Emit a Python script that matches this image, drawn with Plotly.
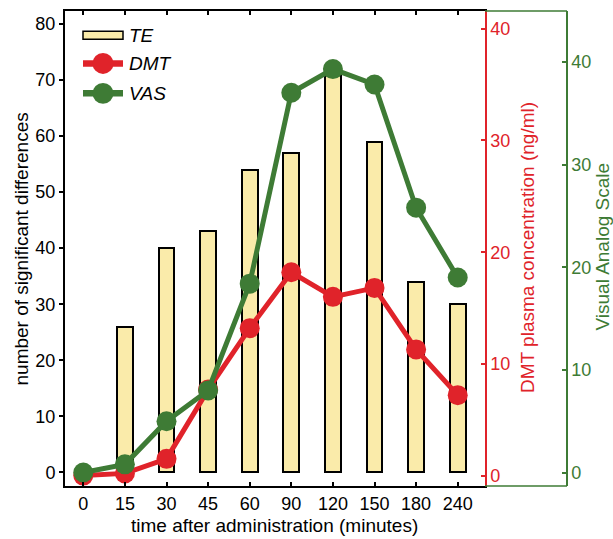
import plotly.graph_objects as go

# ---- data ----
times = ["0", "15", "30", "45", "60", "90", "120", "150", "180", "240"]
te_counts = [0, 26, 40, 43, 54, 57, 72, 59, 34, 30]
dmt_conc = [0, 0.2, 1.5, 7.7, 13.2, 18.2, 16.0, 16.8, 11.3, 7.2]
vas_score = [0, 0.8, 5.0, 8.0, 18.4, 37.0, 39.3, 37.8, 25.8, 19.0]
left_ticks = [0, 10, 20, 30, 40, 50, 60, 70, 80]
right_ticks = [0, 10, 20, 30, 40]

# ---- styles ----
FONT = "Liberation Sans, Arial, sans-serif"
YEL = "#FAEBAA"
RED = "#E0232A"
GREEN = "#3E7B35"

W, H = 613, 539
ML, MR, MT, MB = 65, 46, 9, 53
PW = W - ML - MR
PH = H - MT - MB
XR = 485  # right edge of main plot (px)


def px(x):
    return (x - ML) / PW


def py(y):
    return (H - MB - y) / PH


fig = go.Figure()
fig.add_trace(go.Bar(
    x=times, y=te_counts, width=0.38, yaxis="y",
    marker=dict(color=YEL, line=dict(color="black", width=2)),
    showlegend=False, name="TE"))
fig.add_trace(go.Scatter(
    x=times, y=dmt_conc, yaxis="y2", mode="lines+markers",
    line=dict(color=RED, width=5), marker=dict(color=RED, size=20),
    showlegend=False, name="DMT"))
fig.add_trace(go.Scatter(
    x=times, y=vas_score, yaxis="y3", mode="lines+markers",
    line=dict(color=GREEN, width=5), marker=dict(color=GREEN, size=20),
    showlegend=False, name="VAS"))

xdom_end = (XR - ML) / PW

shapes = []
annotations = []

# green frame top/bottom
for yy in (0, 1):
    shapes.append(dict(type="line", xref="paper", yref="paper",
                       x0=xdom_end, x1=1, y0=yy, y1=yy,
                       line=dict(color=GREEN, width=1.5)))

# custom legend
shapes.append(dict(type="rect", xref="paper", yref="paper",
                   x0=px(83), x1=px(123), y0=py(37.3), y1=py(29.3),
                   fillcolor=YEL, line=dict(color="black", width=1.5)))
for yc, col in ((61.7, RED), (91.7, GREEN)):
    shapes.append(dict(type="line", xref="paper", yref="paper",
                       x0=px(83), x1=px(123), y0=py(yc), y1=py(yc),
                       line=dict(color=col, width=6.5)))
    shapes.append(dict(type="circle", xref="paper", yref="paper",
                       x0=px(103 - 10.5), x1=px(103 + 10.5),
                       y0=py(yc + 10.5), y1=py(yc - 10.5),
                       fillcolor=col, line=dict(color=col, width=0)))
for yc, txt in ((33.3, "TE"), (61.7, "DMT"), (91.7, "VAS")):
    annotations.append(dict(xref="paper", yref="paper", x=px(127), y=py(yc),
                            xanchor="left", yanchor="middle", showarrow=False,
                            text="<i>%s</i>" % txt,
                            font=dict(family=FONT, size=19, color="black")))

# axis titles
annotations.append(dict(xref="paper", yref="paper", x=px(21.5), y=py(248),
                        xanchor="center", yanchor="middle", showarrow=False,
                        textangle=-90, text="number of significant differences",
                        font=dict(family=FONT, size=19, color="black")))
annotations.append(dict(xref="paper", yref="paper", x=px(527), y=py(247),
                        xanchor="center", yanchor="middle", showarrow=False,
                        textangle=-90, text="DMT plasma concentration (ng/ml)",
                        font=dict(family=FONT, size=19, color=RED)))
annotations.append(dict(xref="paper", yref="paper", x=px(602.5), y=py(246),
                        xanchor="center", yanchor="middle", showarrow=False,
                        textangle=-90, text="Visual Analog Scale",
                        font=dict(family=FONT, size=19, color=GREEN)))
annotations.append(dict(xref="paper", yref="paper", x=px(274), y=py(526),
                        xanchor="center", yanchor="middle", showarrow=False,
                        text="time after administration (minutes)",
                        font=dict(family=FONT, size=19, color="black")))

fig.update_layout(
    width=W, height=H,
    margin=dict(l=ML, r=MR, t=MT, b=MB, pad=0),
    paper_bgcolor="white", plot_bgcolor="white",
    font=dict(family=FONT, size=18, color="black"),
    showlegend=False,
    bargap=0,
    xaxis=dict(type="category", domain=[0, xdom_end], range=[-0.44, 9.656],
               showline=True, linecolor="black", linewidth=2, mirror="ticks",
               ticks="inside", ticklen=4, tickwidth=1.5, tickcolor="black",
               showgrid=False, zeroline=False,
               tickfont=dict(family=FONT, size=18, color="black")),
    yaxis=dict(range=[-2.42, 82.3], tickvals=left_ticks,
               showline=True, linecolor="black", linewidth=2,
               ticks="outside", ticklen=4, tickwidth=1.5, tickcolor="black",
               showgrid=False, zeroline=False,
               tickfont=dict(family=FONT, size=18, color="black")),
    yaxis2=dict(overlaying="y", side="right", anchor="x",
                range=[-0.93, 41.59], tickvals=right_ticks,
                showline=True, linecolor=RED, linewidth=1.5,
                ticks="inside", ticklen=4, tickwidth=1.5, tickcolor=RED,
                showgrid=False, zeroline=False,
                tickfont=dict(family=FONT, size=18, color=RED)),
    yaxis3=dict(overlaying="y", side="right", anchor="free", position=1,
                range=[-1.31, 44.96], tickvals=right_ticks,
                showline=True, linecolor=GREEN, linewidth=1.5,
                ticks="inside", ticklen=4, tickwidth=1.5, tickcolor=GREEN,
                showgrid=False, zeroline=False,
                tickfont=dict(family=FONT, size=18, color=GREEN)),
    shapes=shapes,
    annotations=annotations,
)

fig.write_html("out.html")
